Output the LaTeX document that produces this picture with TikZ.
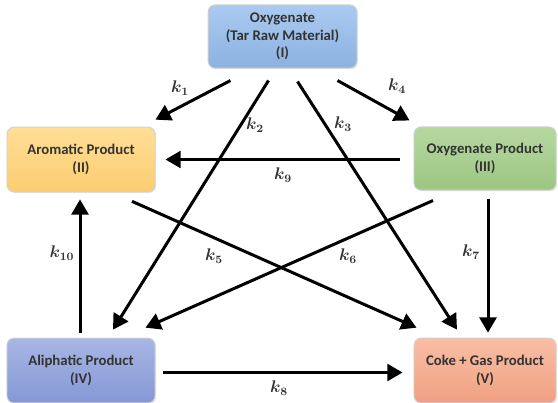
\documentclass[tikz,border=0pt]{standalone}
\usepackage{fontspec}
\usepackage{amsmath}
\setmainfont{Carlito}
\usetikzlibrary{arrows.meta, calc, shadows}

\definecolor{rawT}{RGB}{170,202,240}
\definecolor{rawB}{RGB}{140,178,224}
\definecolor{aroT}{RGB}{255,222,150}
\definecolor{aroB}{RGB}{252,205,112}
\definecolor{oxpT}{RGB}{182,216,160}
\definecolor{oxpB}{RGB}{156,198,130}
\definecolor{aliT}{RGB}{168,182,228}
\definecolor{aliB}{RGB}{132,152,214}
\definecolor{cokT}{RGB}{250,190,165}
\definecolor{cokB}{RGB}{240,160,130}

\begin{document}
\begin{tikzpicture}[x=0.025cm,y=-0.025cm,
  box/.style={rectangle,rounded corners=5pt,draw=black!18,line width=0.6pt,
    align=center,font=\bfseries\fontsize{10.5}{12.6}\selectfont,text=black!80,inner sep=2pt,
    drop shadow={opacity=0.2,shadow xshift=0.8pt,shadow yshift=-0.8pt}},
  raw/.style={box,top color=rawT,bottom color=rawB,minimum width=3.72cm,minimum height=1.58cm},
  aro/.style={box,top color=aroT,bottom color=aroB,minimum width=3.7cm,minimum height=1.62cm},
  oxp/.style={box,top color=oxpT,bottom color=oxpB,minimum width=3.55cm,minimum height=1.58cm},
  ali/.style={box,top color=aliT,bottom color=aliB,minimum width=3.7cm,minimum height=1.62cm},
  cok/.style={box,top color=cokT,bottom color=cokB,minimum width=3.55cm,minimum height=1.62cm},
  arr/.style={-{Triangle[length=0.38cm,width=0.42cm]},line width=0.075cm},
  lab/.style={text=black!80,inner sep=0pt,font=\large\boldmath}
]
  \useasboundingbox (0,0) rectangle (558,402);

  \node[raw] (n1) at (282.5,36.5) {Oxygenate\\(Tar Raw Material)\\(I)};
  \node[aro] (n2) at (81,159.5)   {Aromatic Product\\(II)};
  \node[oxp] (n3) at (485,158.5)  {Oxygenate Product\\(III)};
  \node[ali] (n4) at (81,370.5)   {Aliphatic Product\\(IV)};
  \node[cok] (n5) at (485,370.5)  {Coke + Gas Product\\(V)};

  \draw[arr]($(n1.south)+(-52,12)$)--($(n2.north east)+(0,-7)$);
  \draw[arr]($(n1.south)+(-14,12)$)--($(n4.north)+(32,-8)$);
  \draw[arr]($(n1.south)+(15,13)$)--($(n5.north)+(-28,-8)$);
  \draw[arr]($(n1.south)+(55,12)$)--($(n3.north west)+(-4,-6)$);
  \draw[arr]($(n2.south)+(51,9)$)--($(n5.north west)+(3,-10)$);
  \draw[arr]($(n3.south)+(-52,10)$)--($(n4.north east)+(-10,-10)$);
  \draw[arr]($(n3.south)+(3,8)$)--($(n5.north)+(3,-5)$);
  \draw[arr]($(n4.east)+(8,2)$)--($(n5.west)+(-11,2)$);
  \draw[arr]($(n3.west)+(-14,1)$)--($(n2.east)+(10,0)$);
  \draw[arr]($(n4.north)+(-1,-5)$)--($(n2.south)+(-1,7)$);

  \node[lab] (k1)  at (180,88)  {$k_{1}$};
  \node[lab] (k2)  at (255,125) {$k_{2}$};
  \node[lab] (k3)  at (343,124) {$k_{3}$};
  \node[lab] (k4)  at (397,86)  {$k_{4}$};
  \node[lab] (k5)  at (214,256) {$k_{5}$};
  \node[lab] (k6)  at (348,256) {$k_{6}$};
  \node[lab] (k7)  at (471,252) {$k_{7}$};
  \node[lab] (k8)  at (279,388) {$k_{8}$};
  \node[lab] (k9)  at (283,175) {$k_{9}$};
  \node[lab] (k10) at (62,253)  {$k_{10}$};
\end{tikzpicture}
\end{document}
